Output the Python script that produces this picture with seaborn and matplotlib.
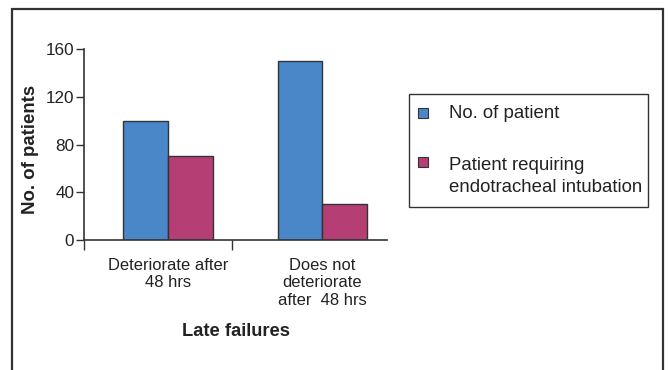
import matplotlib
matplotlib.use("Agg")
import matplotlib.pyplot as plt
from matplotlib.patches import Rectangle
import seaborn as sns
import pandas as pd

# Data
categories = ["Deteriorate after\n48 hrs", "Does not\ndeteriorate\nafter  48 hrs"]
series_names = ["No. of patient", "Patient requiring\nendotracheal intubation"]
no_of_patient = [100, 150]
requiring_intubation = [70, 30]
y_ticks = [0, 40, 80, 120, 160]

colors = ["#4a87c8", "#b53e74"]
ink = "#222222"
edge = "#333333"

df = pd.DataFrame({
    "category": categories * 2,
    "series": [series_names[0]] * 2 + [series_names[1]] * 2,
    "value": no_of_patient + requiring_intubation,
})

sns.set_theme(style="white")
plt.rcParams["font.family"] = ["Liberation Sans", "DejaVu Sans"]

W, H = 668, 370
fig = plt.figure(figsize=(W / 100, H / 100), dpi=100)
ax = fig.add_axes([84 / W, 1 - 240 / H, (387 - 84) / W, (240 - 49) / H])

sns.barplot(data=df, x="category", y="value", hue="series",
            palette=colors, width=0.58, edgecolor=edge, linewidth=1.0,
            saturation=1, ax=ax, legend=False)

ax.set_xlim(-0.545, 1.42)
ax.set_ylim(0, 160)
ax.set_yticks(y_ticks)
ax.tick_params(axis="y", which="major", direction="out", length=6, width=1,
               color=edge, labelsize=12.3, labelcolor=ink, pad=1, left=True)
ax.set_xticks([0, 1])
ax.set_xticklabels(categories, fontsize=11.9, color=ink, linespacing=1.2)
ax.tick_params(axis="x", which="major", length=0, pad=13)
ax.set_xticks([-0.545, 0.416], minor=True)
ax.tick_params(axis="x", which="minor", direction="out", length=7, width=1,
               color=edge, bottom=True)

for side in ["top", "right"]:
    ax.spines[side].set_visible(False)
for side in ["left", "bottom"]:
    ax.spines[side].set_color(edge)
    ax.spines[side].set_linewidth(1.2)

ax.set_xlabel("Late failures", fontsize=13.2, fontweight="bold", color=ink,
              labelpad=11)
ax.set_ylabel("No. of patients", fontsize=13.4, fontweight="bold", color=ink)
ax.yaxis.set_label_coords(-0.148, 0.475)

# Legend box, drawn in figure pixel coordinates
def fx(px):
    return px / W

def fy(py):
    return 1 - py / H

fig.patches.append(Rectangle((fx(409), fy(207)), (648 - 409) / W, (207 - 94) / H,
                             transform=fig.transFigure, fill=False,
                             edgecolor=edge, linewidth=1.0))
handle_tops = [108, 157]
text_tops = [114, 165]
for c, name, ht, tt in zip(colors, series_names, handle_tops, text_tops):
    fig.patches.append(Rectangle((fx(418), fy(ht + 10)), 10 / W, 10 / H,
                                 transform=fig.transFigure, facecolor=c,
                                 edgecolor=edge, linewidth=0.8))
    first, *rest = name.split("\n")
    fig.text(fx(449), fy(tt), first, fontsize=13.4, color=ink,
             ha="left", va="center")
    for i, line in enumerate(rest, start=1):
        fig.text(fx(449), fy(tt + 23 * i), line, fontsize=13.4, color=ink,
                 ha="left", va="center")

# Outer frame
fig.patches.append(Rectangle((12 / W, -0.1), (663 - 12) / W, 1.1 - 9 / H,
                             transform=fig.transFigure, fill=False,
                             edgecolor=edge, linewidth=1.6, clip_on=False))

fig.savefig("out.png", dpi=100)
